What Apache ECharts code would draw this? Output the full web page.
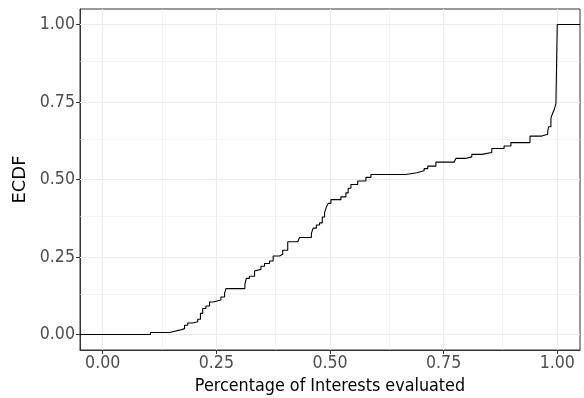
<!DOCTYPE html>
<html><head><meta charset="utf-8">
<script src="https://cdn.jsdelivr.net/npm/echarts@6/dist/echarts.min.js"></script>
<style>html,body{margin:0;padding:0;background:#fff}#c{width:584px;height:398px}</style>
</head><body><div id="c"></div>
<script>
// ECDF step locations (x) and cumulative values after each step (y)
const stepX = [-0.05, 0.105, 0.147, 0.156, 0.169, 0.180, 0.187, 0.198, 0.209, 0.215, 0.220, 0.227, 0.235, 0.243, 0.260, 0.268, 0.271, 0.3127, 0.316, 0.3226, 0.334, 0.337, 0.348, 0.356, 0.367, 0.375, 0.389, 0.396, 0.407, 0.429, 0.433, 0.459, 0.463, 0.470, 0.477, 0.483, 0.488, 0.492, 0.496, 0.502, 0.524, 0.535, 0.540, 0.546, 0.561, 0.579, 0.590, 0.667, 0.691, 0.707, 0.715, 0.733, 0.773, 0.777, 0.798, 0.812, 0.834, 0.856, 0.883, 0.898, 0.940, 0.966, 0.979, 0.981, 0.986, 0.989, 0.993, 0.997, 1.0, 1.05];
const ecdfY = [0, 0.0065, 0.0097, 0.014, 0.019, 0.030, 0.037, 0.041, 0.049, 0.068, 0.084, 0.092, 0.105, 0.111, 0.121, 0.132, 0.148, 0.162, 0.181, 0.188, 0.205, 0.210, 0.220, 0.229, 0.237, 0.253, 0.259, 0.272, 0.299, 0.304, 0.313, 0.326, 0.343, 0.353, 0.360, 0.379, 0.393, 0.411, 0.423, 0.435, 0.444, 0.457, 0.472, 0.484, 0.495, 0.507, 0.516, 0.522, 0.528, 0.535, 0.543, 0.556, 0.561, 0.568, 0.573, 0.581, 0.587, 0.600, 0.608, 0.619, 0.640, 0.646, 0.657, 0.670, 0.697, 0.711, 0.724, 0.745, 1.0, 1.0];
const xTicks = [0, 0.25, 0.5, 0.75, 1];
const yTicks = [0, 0.25, 0.5, 0.75, 1];
const xMinor = [0.125, 0.375, 0.625, 0.875];
const yMinor = [0.125, 0.375, 0.625, 0.875];
const xTitle = 'Percentage of Interests evaluated';
const yTitle = 'ECDF';

const FONT = '"DejaVu Sans Condensed", "DejaVu Sans", sans-serif';
const chart = echarts.init(document.getElementById('c'), null, {renderer: 'canvas'});
const gridData = [];
xMinor.forEach(v => gridData.push({xAxis: v, lineStyle: {color: '#ebebeb', width: 0.6, type: 'solid'}}));
yMinor.forEach(v => gridData.push({yAxis: v, lineStyle: {color: '#ebebeb', width: 0.6, type: 'solid'}}));
xTicks.forEach(v => gridData.push({xAxis: v, lineStyle: {color: '#ebebeb', width: 1.1, type: 'solid'}}));
yTicks.forEach(v => gridData.push({yAxis: v, lineStyle: {color: '#ebebeb', width: 1.1, type: 'solid'}}));

const axisCommon = {
  type: 'value', min: -0.05, max: 1.05,
  axisLine: {show: true, onZero: false, lineStyle: {color: '#333333', width: 1}},
  splitLine: {show: false},
  nameLocation: 'middle'
};
chart.setOption({
  animation: false,
  backgroundColor: '#fff',
  grid: {left: 80, right: 4, top: 9, bottom: 48, outerBoundsMode: 'none', containLabel: false, show: true, borderColor: '#333333', borderWidth: 1, backgroundColor: 'transparent'},
  xAxis: Object.assign({}, axisCommon, {
    name: xTitle, nameGap: 24,
    nameTextStyle: {color: '#000', fontSize: 17.8, fontFamily: FONT},
    axisTick: {show: true, customValues: xTicks, length: 4, lineStyle: {color: '#333333', width: 1}},
    axisLabel: {customValues: xTicks, formatter: v => Number(v).toFixed(2), color: '#4d4d4d', fontSize: 17.6, fontFamily: FONT, margin: 4}
  }),
  yAxis: Object.assign({}, axisCommon, {
    name: yTitle, nameGap: 40,
    nameTextStyle: {color: '#000', fontSize: 18, fontFamily: 'DejaVu Sans'},
    axisTick: {show: true, customValues: yTicks, length: 4, lineStyle: {color: '#333333', width: 1}},
    axisLabel: {customValues: yTicks, formatter: v => Number(v).toFixed(2), color: '#4d4d4d', fontSize: 17.6, fontFamily: FONT, margin: 5}
  }),
  series: [
    {
      type: 'line', z: 1, data: [], silent: true, showSymbol: false,
      markLine: {silent: true, symbol: 'none', z: 1, label: {show: false}, animation: false, data: gridData}
    },
    {
      type: 'line', z: 3, step: 'end', showSymbol: false, symbol: 'none',
      lineStyle: {color: '#000', width: 1.1},
      data: stepX.map((x, i) => [x, ecdfY[i]])
    }
  ]
});
</script></body></html>
